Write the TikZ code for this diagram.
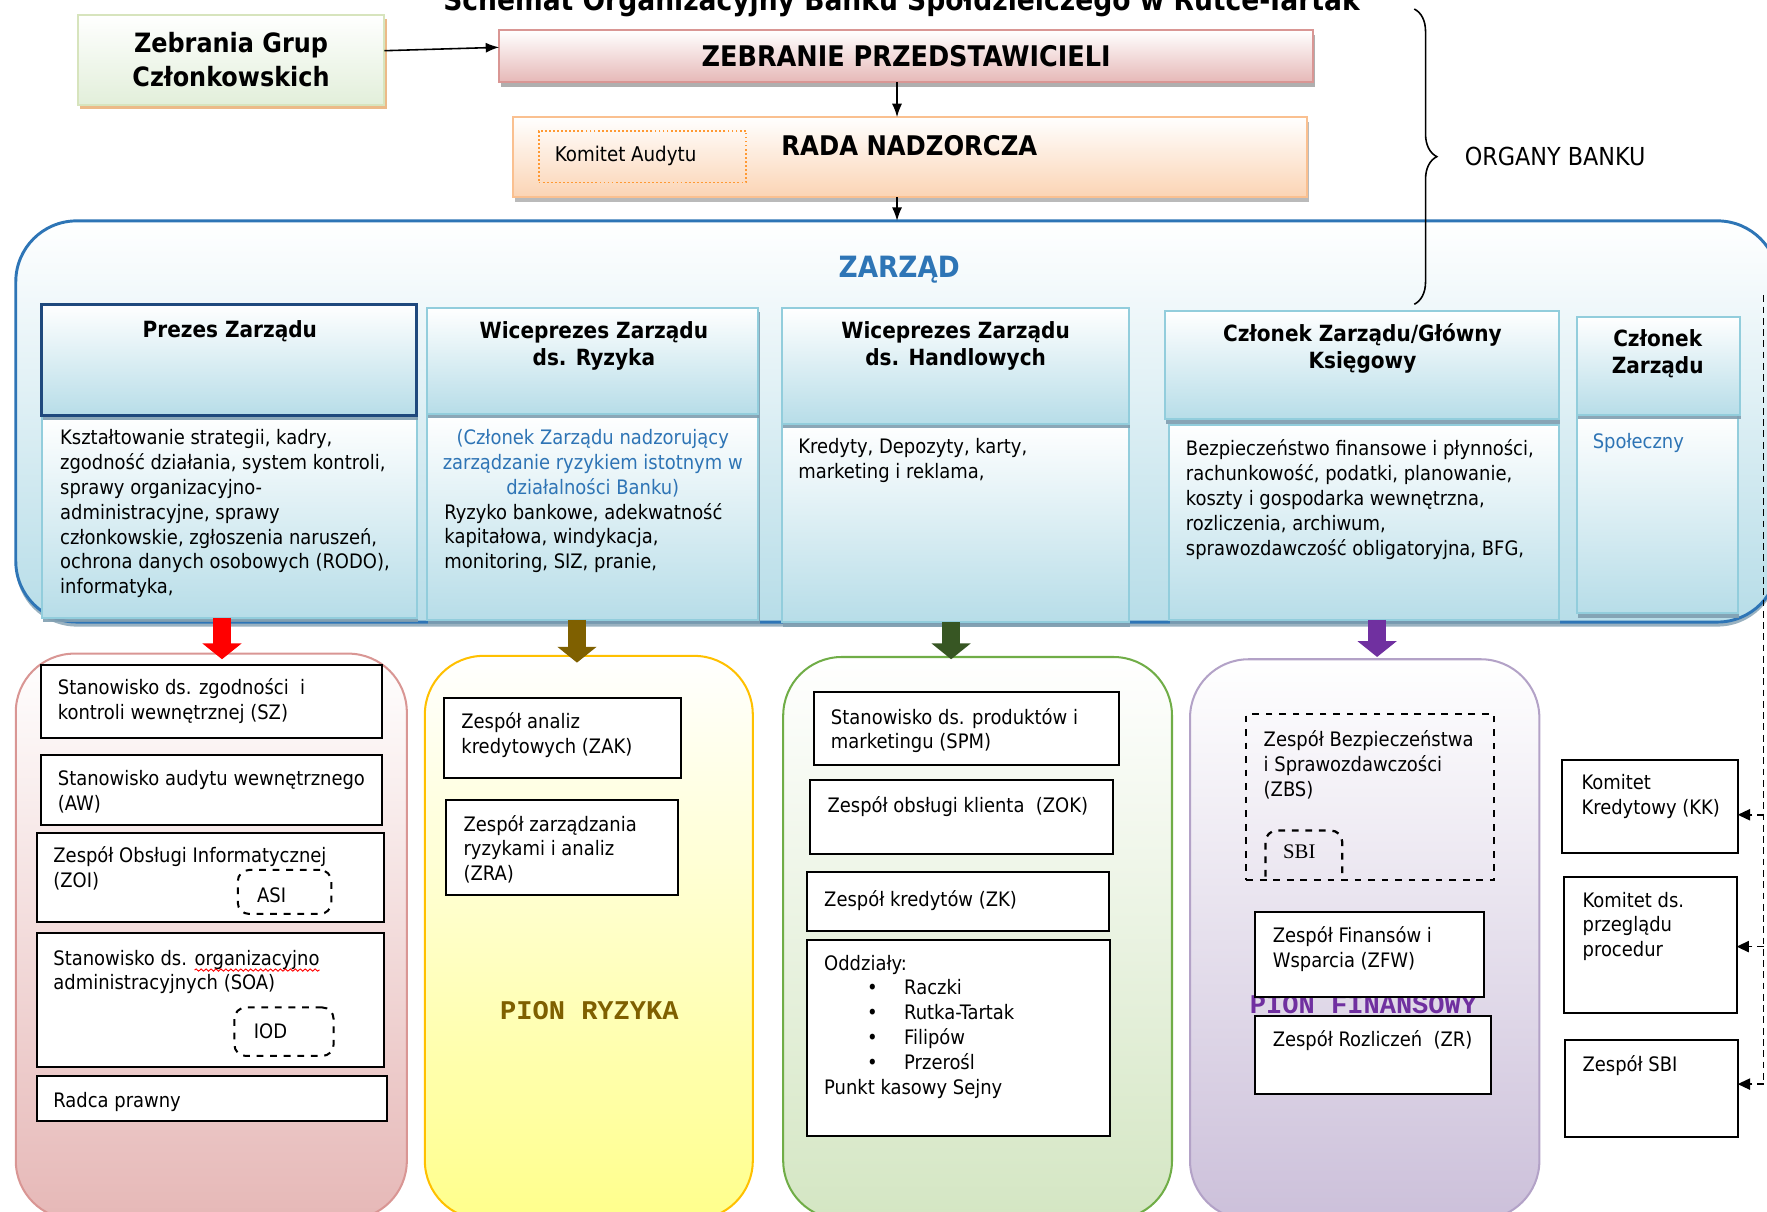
\documentclass[tikz,border=0pt]{standalone}
\usepackage{fontspec}
\setmainfont{DejaVu Sans Condensed}
\newfontfamily\monof{Liberation Mono}
\newfontfamily\serf{Liberation Serif}
\usetikzlibrary{arrows.meta,shadows,decorations.pathreplacing,decorations.pathmorphing}

\definecolor{zbord}{HTML}{2E75B6}
\definecolor{zfill}{HTML}{B7DDE8}
\definecolor{hline}{HTML}{92CDDC}
\definecolor{pzline}{HTML}{1F497D}
\definecolor{shblue}{HTML}{7F9EB0}
\definecolor{redb}{HTML}{D99694}
\definecolor{redf}{HTML}{E6B8B7}
\definecolor{yelb}{HTML}{FFC000}
\definecolor{yelf}{HTML}{FFFF8C}
\definecolor{grnb}{HTML}{70AD47}
\definecolor{grnf}{HTML}{D4E6C3}
\definecolor{purb}{HTML}{B3A2C7}
\definecolor{purf}{HTML}{CCC0DA}
\definecolor{oranb}{HTML}{FAC090}
\definecolor{oranf}{HTML}{FBD4B4}
\definecolor{zgb}{HTML}{D7E4BD}
\definecolor{zgf}{HTML}{E2EFDA}
\definecolor{arbrown}{HTML}{7F6000}
\definecolor{argreen}{HTML}{375623}
\definecolor{arpurple}{HTML}{7030A0}
\definecolor{txblue}{HTML}{2E74B5}

\newcommand\bodyf{\fontsize{8.85}{11}\selectfont}
\newcommand\hdrf{\bfseries\fontsize{9.9}{12}\selectfont}
% box node from its corner coordinates
\newcommand\bx[6]{\node[#2,minimum width={(#5-#3)*0.5pt},minimum height={(#6-#4)*0.5pt}] (#1) at ({(#3+#5)/2},{(#4+#6)/2}) {};}
% word marked with a red wavy underline
\newcommand\wavy[1]{\tikz[baseline=(w.base)]{\node[inner sep=0pt,outer sep=0pt,anchor=base] (w) at (0,0) {#1};
  \draw[red,overlay,line width=0.4pt,decorate,decoration={snake,amplitude=0.5pt,segment length=2.2pt}] ([yshift=-2.2pt]w.base west) -- ([yshift=-2.2pt]w.base east);}}

\begin{document}
\begin{tikzpicture}[x=0.5pt,y=-0.5pt,
  base/.style={inner sep=0pt,outer sep=0pt},
  wbox/.style={base,draw=black,line width=0.9pt,fill=white},
  hdr/.style={base,draw=hline,line width=0.9pt,top color=white,bottom color=zfill,
    drop shadow={shadow xshift=0.5pt,shadow yshift=-2pt,fill=shblue,opacity=0.9}},
  grp/.style={base,rounded corners=26pt,line width=0.9pt},
  tx/.style={inner sep=0pt,anchor=north west,align=left,font=\bodyf,execute at begin node={\rule{0pt}{8pt}}},
  ttl/.style={inner sep=0pt,anchor=north,align=center,font=\hdrf,execute at begin node={\rule{0pt}{9pt}}},
  conn/.style={-{Latex[length=6pt,width=4.5pt]},line width=0.7pt},
  fat/.style={line width=8pt,-{Triangle[length=7pt,width=17pt]},draw=#1},
  dbox/.style={base,draw=black,dashed,line width=0.9pt,rounded corners=5pt},
  pion/.style={font=\monof\bfseries\fontsize{12}{14}\selectfont,inner sep=0pt},
  dline/.style={line width=0.7pt,dash pattern=on 3pt off 2pt},
  darrow/.style={dline,-{Triangle[length=5.5pt,width=5pt]}},
]
\useasboundingbox (0,0) rectangle (1568,1075);
\clip (0,0) rectangle (1568,1075);

% title, partly above the page
\node[font=\bfseries\fontsize{13.1}{15}\selectfont,anchor=base,inner sep=0pt] (title) at (800,9)
  {Schemat Organizacyjny Banku Spółdzielczego w Rutce-Tartak};

% governing bodies
\bx{zgc}{base,draw=zgb,line width=0.9pt,top color=white,bottom color=zgf,
  drop shadow={shadow xshift=1pt,shadow yshift=-2pt,fill=brown!55!orange!60,opacity=0.9}}{69}{13}{341}{93}
\node[align=center,font=\bfseries\fontsize{11.8}{15}\selectfont,inner sep=0pt] (zgct) at (zgc) {Zebrania Grup\\Członkowskich};

\bx{zp}{base,draw=redb,line width=0.9pt,top color=white,bottom color=redf,
  drop shadow={shadow xshift=1pt,shadow yshift=-2pt,fill=gray!70,opacity=0.9}}{443}{27}{1165}{73}
\node[font=\bfseries\fontsize{12.6}{14}\selectfont,inner sep=0pt] (zpt) at (zp) {ZEBRANIE PRZEDSTAWICIELI};

\bx{rada}{base,draw=oranb,line width=0.9pt,top color=white,bottom color=oranf,
  drop shadow={shadow xshift=1pt,shadow yshift=-2pt,fill=gray!60,opacity=0.9}}{455}{104}{1160}{175}
\node[font=\bfseries\fontsize{12}{14}\selectfont,inner sep=0pt] (radat) at (807,129) {RADA NADZORCZA};
\bx{ka}{base,draw=orange!80,densely dotted,line width=0.8pt}{478}{116}{662}{162}
\node[font=\fontsize{9}{11}\selectfont,anchor=west,inner sep=0pt] (kat) at (492,138) {Komitet Audytu};

% board frame
\bx{zarzad}{base,rounded corners=27pt,draw=zbord,line width=1.3pt,top color=white,bottom color=zfill,
  drop shadow={shadow xshift=0pt,shadow yshift=-2pt,fill=shblue,opacity=0.8}}{14}{196}{1578}{552}
\node[font=\bfseries\fontsize{13}{15}\selectfont,text=zbord,inner sep=0pt] (zt) at (798,239) {ZARZĄD};

\draw[conn] (zgc.east |- 0,45) -- (zp.west |- 0,42);
\coordinate (c1) at (796,0);
\draw[conn] (zp.south -| c1) -- (rada.north -| c1);
\draw[conn] (rada.south -| c1) -- (zarzad.north -| c1);

% brace
\draw[line width=0.7pt,decorate,decoration={brace,amplitude=10pt}] (1255,8) -- (1255,270);
\node[font=\fontsize{11}{13}\selectfont,inner sep=0pt] (org) at (1380,139) {ORGANY BANKU};

% board members: bodies then headers
\bx{pzb}{hdr}{37}{369}{370}{548}
\bx{ryb}{hdr}{379}{367}{673}{550}
\bx{hab}{hdr}{694}{376}{1002}{552}
\bx{ksb}{hdr}{1037}{377}{1383}{550}
\bx{czb}{hdr}{1399}{368}{1542}{544}
\bx{pzh}{hdr,draw=pzline,line width=1.3pt}{37}{270}{370}{369}
\bx{ryh}{hdr}{379}{273}{673}{367}
\bx{hah}{hdr}{694}{273}{1002}{376}
\bx{ksh}{hdr}{1034}{276}{1383}{372}
\bx{czh}{hdr}{1399}{281}{1544}{368}

\node[ttl] (pzt) at (204,281) {Prezes Zarządu};
\node[ttl] (ryt) at (527,285) {Wiceprezes Zarządu\\ds. Ryzyka};
\node[ttl] (hat) at (848,285) {Wiceprezes Zarządu\\ds. Handlowych};
\node[ttl] (kst) at (1209,287) {Członek Zarządu/Główny\\Księgowy};
\node[ttl] (czt) at (1471,292) {Członek\\Zarządu};

\node[tx] (pzbt) at (53,381) {Kształtowanie strategii, kadry,\\zgodność działania, system kontroli,\\sprawy organizacyjno-\\administracyjne, sprawy\\członkowskie, zgłoszenia naruszeń,\\ochrona danych osobowych (RODO),\\informatyka,};
\node[tx,anchor=north,align=center,text=txblue] (rybt) at (526,381) {(Członek Zarządu nadzorujący\\zarządzanie ryzykiem istotnym w\\działalności Banku)};
\node[tx] (rybt2) at (394,446) {Ryzyko bankowe, adekwatność\\kapitałowa, windykacja,\\monitoring, SIZ, pranie,};
\node[tx] (habt) at (708,389) {Kredyty, Depozyty, karty,\\marketing i reklama,};
\node[tx] (ksbt) at (1052,390) {Bezpieczeństwo finansowe i płynności,\\rachunkowość, podatki, planowanie,\\koszty i gospodarka wewnętrzna,\\rozliczenia, archiwum,\\sprawozdawczość obligatoryjna, BFG,};
\node[tx,text=txblue] (czbt) at (1413,382) {Społeczny};

% divisions
\bx{gred}{grp,draw=redb,top color=white,bottom color=redf}{14}{580}{361}{1082}
\bx{gyel}{grp,draw=yelb,top color=white,bottom color=yelf}{377}{582}{668}{1082}
\bx{ggrn}{grp,draw=grnb,top color=white,bottom color=grnf}{695}{583}{1040}{1082}
\bx{gpur}{grp,draw=purb,top color=white,bottom color=purf}{1056}{585}{1366}{1082}

\coordinate (a1) at (197,585);
\coordinate (a2) at (512,588);
\coordinate (a3) at (844,585);
\coordinate (a4) at (1222,583);
\draw[fat=red] (pzb.south -| a1) -- (a1);
\draw[fat=arbrown] (ryb.south -| a2) -- (a2);
\draw[fat=argreen] (hab.south -| a3) -- (a3);
\draw[fat=arpurple] (ksb.south -| a4) -- (a4);

% compliance and administration
\bx{sz}{wbox}{36}{590}{339}{655}
\node[tx] (szt) at (51,602) {Stanowisko ds. zgodności\ \ i\\kontroli wewnętrznej (SZ)};
\bx{aw}{wbox}{36}{670}{339}{732}
\node[tx] (awt) at (51,683) {Stanowisko audytu wewnętrznego\\(AW)};
\bx{zoi}{wbox}{33}{739}{341}{818}
\node[tx] (zoit) at (47,751) {Zespół Obsługi Informatycznej\\(ZOI)};
\bx{asi}{dbox}{211}{772}{294}{811}
\node[font=\bodyf,inner sep=0pt] (asit) at (241,794) {ASI};
\bx{soa}{wbox}{33}{828}{341}{947}
\node[tx] (soat) at (47,840) {Stanowisko ds. \wavy{organizacyjno}\\administracyjnych (SOA)};
\bx{iod}{dbox}{208}{894}{296}{937}
\node[font=\bodyf,inner sep=0pt] (iodt) at (240,915) {IOD};
\bx{rp}{wbox}{33}{955}{343}{995}
\node[tx] (rpt) at (47,966) {Radca prawny};

% risk division
\bx{zak}{wbox}{394}{619}{604}{690}
\node[tx] (zakt) at (409,632) {Zespół analiz\\kredytowych (ZAK)};
\bx{zra}{wbox}{396}{710}{602}{794}
\node[tx] (zrat) at (411,723) {Zespół zarządzania\\ryzykami i analiz\\(ZRA)};
\node[pion,text=arbrown] (pr) at (523,897) {PION RYZYKA};

% commercial division
\bx{spm}{wbox}{722}{614}{993}{679}
\node[tx] (spmt) at (737,628) {Stanowisko ds. produktów i\\marketingu (SPM)};
\bx{zok}{wbox}{719}{692}{988}{758}
\node[tx] (zokt) at (734,705) {Zespół obsługi klienta\ \ (ZOK)};
\bx{zk}{wbox}{716}{774}{984}{826}
\node[tx] (zkt) at (731,788) {Zespół kredytów (ZK)};
\bx{odd}{wbox}{716}{834}{985}{1008}
\node[tx] (oddt) at (731,847) {Oddziały:\\
  \makebox[35.5pt][l]{\hspace*{19pt}\textbullet}Raczki\\
  \makebox[35.5pt][l]{\hspace*{19pt}\textbullet}Rutka-Tartak\\
  \makebox[35.5pt][l]{\hspace*{19pt}\textbullet}Filipów\\
  \makebox[35.5pt][l]{\hspace*{19pt}\textbullet}Przerośl\\
  Punkt kasowy Sejny};

% finance division
\node[pion,text=arpurple] (pf) at (1210,891) {PION FINANSOWY};
\bx{zbs}{base,draw=black,dashed,line width=0.9pt}{1106}{634}{1326}{781}
\node[tx] (zbst) at (1121,648) {Zespół Bezpieczeństwa\\i Sprawozdawczości\\(ZBS)};
\draw[dashed,line width=1pt,rounded corners=5pt] (1123,778) -- (1123,737) -- (1191,737) -- (1191,778);
\node[font=\serf\fontsize{9.2}{11}\selectfont,inner sep=0pt] (sbit) at (1153,756) {SBI};
\bx{zfw}{wbox}{1114}{809}{1317}{885}
\node[tx] (zfwt) at (1129,822) {Zespół Finansów i\\Wsparcia (ZFW)};
\bx{zr}{wbox}{1114}{902}{1323}{971}
\node[tx] (zrt) at (1129,912) {Zespół Rozliczeń\ \ (ZR)};

% committees
\bx{kk}{wbox}{1386}{674}{1542}{757}
\node[tx] (kkt) at (1403,687) {Komitet\\Kredytowy (KK)};
\bx{kp}{wbox}{1388}{778}{1541}{899}
\node[tx] (kpt) at (1404,791) {Komitet ds.\\przeglądu\\procedur};
\bx{ks}{wbox}{1389}{923}{1542}{1009}
\node[tx] (kst2) at (1404,934) {Zespół SBI};

\coordinate (dtop) at (1565,262);
\coordinate (dbot) at (1565,962);
\coordinate (d1) at (1565,723);
\coordinate (d2) at (1565,840);
\draw[dline] (dtop) -- (dbot);
\draw[darrow] (d1) -- (d1 -| kk.east);
\draw[darrow] (d2) -- (d2 -| kp.east);
\draw[darrow] (dbot) -- (dbot -| ks.east);
\end{tikzpicture}
\end{document}
